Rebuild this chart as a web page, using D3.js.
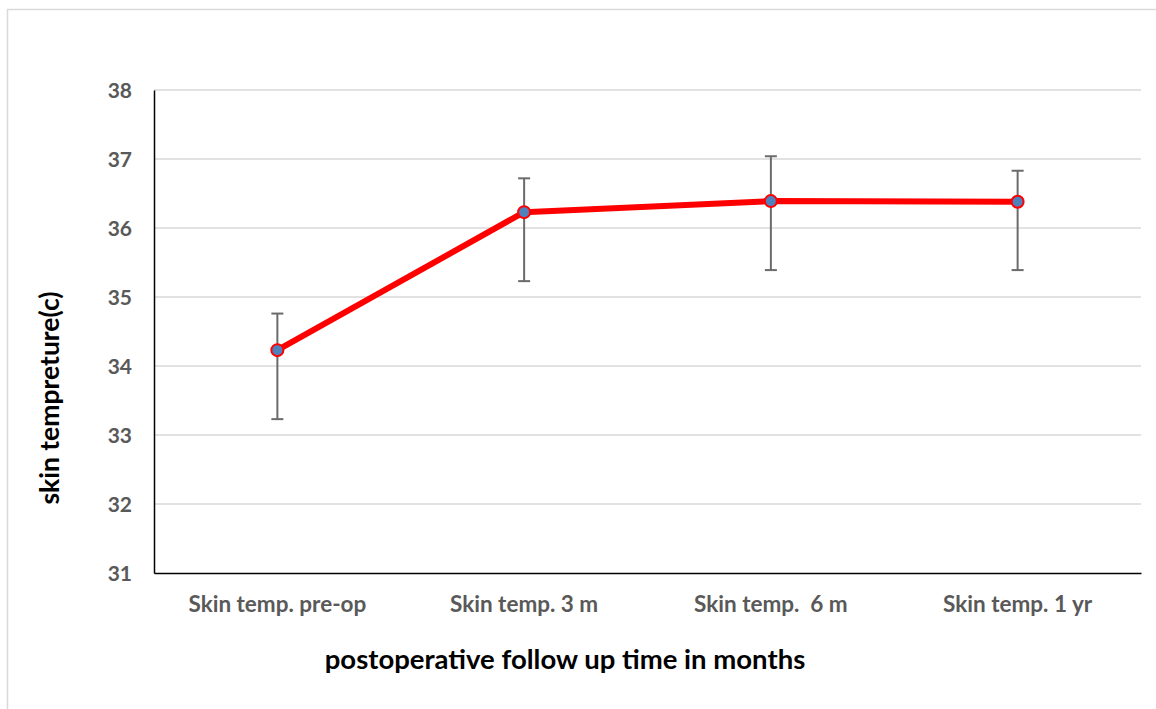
<!DOCTYPE html>
<html><head><meta charset="utf-8">
<script src="https://cdn.jsdelivr.net/npm/d3@7"></script>
<style>body{margin:0;background:#fff}svg{display:block}</style>
</head><body>
<svg id="c" width="1156" height="709"></svg>
<script>
const categories = ["Skin temp. pre-op", "Skin temp. 3 m", "Skin temp.  6 m", "Skin temp. 1 yr"];
const means = [34.23, 36.23, 36.39, 36.38];
const errPlus = [0.53, 0.49, 0.65, 0.45];
const errMinus = [1.0, 1.0, 1.0, 0.99];
const yTicks = [31, 32, 33, 34, 35, 36, 37, 38];
const yTitle = "skin tempreture(c)";
const xTitle = "postoperative follow up time in months";

const svg = d3.select("#c");
const font = "Lato, 'Open Sans', sans-serif";
const L = 154, R = 1141, T = 90, B = 573;

svg.append("rect").attr("x", 7.5).attr("y", 9.5).attr("width", 1160).attr("height", 720)
  .attr("fill", "#fff").attr("stroke", "#d9d9d9").attr("stroke-width", 1.5);

const x = d3.scaleBand().domain(categories).range([L, R]);
const y = d3.scaleLinear().domain([31, 38]).range([B, T]);
const cx = c => x(c) + x.bandwidth() / 2;

// gridlines
svg.append("g").selectAll("line").data(yTicks.filter(t => t > 31)).join("line")
  .attr("x1", L).attr("x2", R).attr("y1", d => y(d)).attr("y2", d => y(d))
  .attr("stroke", "#d9d9d9").attr("stroke-width", 1.5);

// y axis
const gy = svg.append("g").attr("transform", `translate(${L},0)`)
  .call(d3.axisLeft(y).tickValues(yTicks).tickSize(0).tickSizeOuter(0).tickPadding(22).tickFormat(d3.format("d")));
gy.select(".domain").attr("stroke", "#000").attr("stroke-width", 1.5);
gy.selectAll("text").attr("font-family", font).attr("font-weight", "bold")
  .attr("font-size", 21).attr("fill", "#595959").attr("dy", "0.36em");

// x axis
const gx = svg.append("g").attr("transform", `translate(0,${B})`)
  .call(d3.axisBottom(x).tickSize(0).tickSizeOuter(0));
gx.select(".domain").attr("stroke", "#000").attr("stroke-width", 1.5);
gx.selectAll("text").attr("font-family", font).attr("font-weight", "bold")
  .attr("font-size", 22.5).attr("fill", "#595959").attr("y", 39).attr("dy", 0)
  .style("white-space", "pre");

// error bars
const eg = svg.append("g").attr("stroke", "#6b6b6b").attr("stroke-width", 2);
categories.forEach((c, i) => {
  const hi = y(means[i] + errPlus[i]), lo = y(means[i] - errMinus[i]), xc = cx(c);
  eg.append("line").attr("x1", xc).attr("x2", xc).attr("y1", hi).attr("y2", lo);
  eg.append("line").attr("x1", xc - 6).attr("x2", xc + 6).attr("y1", hi).attr("y2", hi);
  eg.append("line").attr("x1", xc - 6).attr("x2", xc + 6).attr("y1", lo).attr("y2", lo);
});

// line
const pts = categories.map((c, i) => [cx(c), y(means[i])]);
svg.append("path").attr("d", d3.line()(pts)).attr("fill", "none")
  .attr("stroke", "#ff0000").attr("stroke-width", 6).attr("stroke-linejoin", "round");

svg.append("g").selectAll("circle").data(pts).join("circle")
  .attr("cx", d => d[0]).attr("cy", d => d[1]).attr("r", 6)
  .attr("fill", "#4f81bd").attr("stroke", "#ff0000").attr("stroke-width", 2);

// titles
svg.append("text").attr("x", 565).attr("y", 669).attr("text-anchor", "middle")
  .attr("font-family", font).attr("font-weight", "bold").attr("font-size", 27.5).attr("fill", "#000")
  .text(xTitle);
svg.append("text").attr("transform", "translate(59,398) rotate(-90)").attr("text-anchor", "middle")
  .attr("font-family", font).attr("font-weight", "bold").attr("font-size", 26.5).attr("fill", "#000")
  .text(yTitle);
</script>
</body></html>
